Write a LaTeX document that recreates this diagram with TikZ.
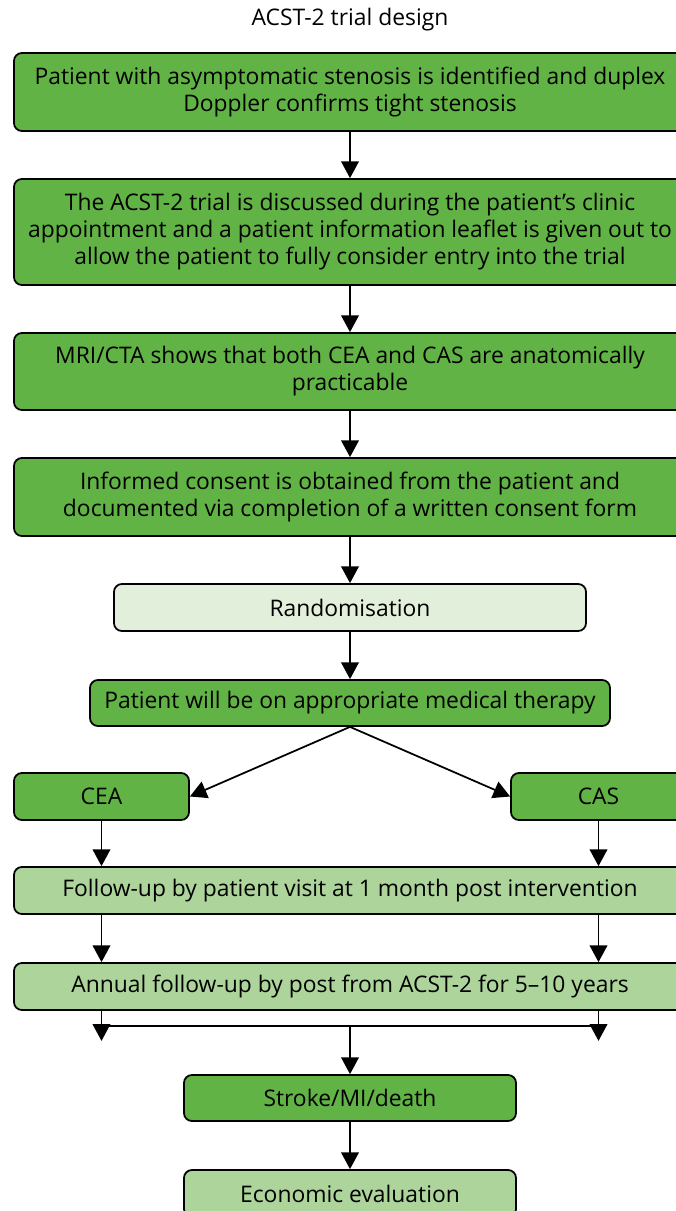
\documentclass[tikz,border=0pt]{standalone}
\usepackage{fontspec}
\setmainfont{Open Sans}
\usetikzlibrary{arrows.meta, positioning, calc}
\definecolor{stepgreen}{RGB}{98,179,70}
\definecolor{midgreen}{RGB}{172,212,155}
\definecolor{palegreen}{RGB}{226,239,218}
\tikzset{
  darkbox/.style={rectangle,rounded corners=4.5pt,fill=stepgreen,draw=black,line width=1pt,
    align=center,inner sep=0pt,font=\fontsize{13}{15.4}\selectfont},
  midbox/.style={darkbox,fill=midgreen},
  palebox/.style={darkbox,fill=palegreen},
  arr/.style={-{Triangle[length=9.5pt,width=10pt]},line width=1pt,draw=black}
}
\begin{document}
\begin{tikzpicture}
  \useasboundingbox (0,0) rectangle (13.52,-24.22);

  \node[font=\fontsize{13}{14}\selectfont] (title) at (7,-0.4) {ACST-2 trial design};

  % Main steps
  \node[darkbox,minimum width=13.44cm,minimum height=1.56cm] (identify) at (7,-1.84)
    {Patient with asymptomatic stenosis is identified and duplex\\Doppler confirms tight stenosis};
  \node[darkbox,minimum width=13.44cm,minimum height=2.12cm] (discuss) at (7,-4.64)
    {The ACST-2 trial is discussed during the patient’s clinic\\appointment and a patient information leaflet is given out to\\allow the patient to fully consider entry into the trial};
  \node[darkbox,minimum width=13.44cm,minimum height=1.54cm] (imaging) at (7,-7.43)
    {MRI/CTA shows that both CEA and CAS are anatomically\\practicable};
  \node[darkbox,minimum width=13.44cm,minimum height=1.56cm] (consent) at (7,-9.94)
    {Informed consent is obtained from the patient and\\documented via completion of a written consent form};
  \node[palebox,minimum width=9.44cm,minimum height=0.94cm] (random) at (7,-12.15) {Randomisation};
  \node[darkbox,minimum width=10.4cm,minimum height=0.92cm] (therapy) at (7,-14.06)
    {Patient will be on appropriate medical therapy};

  % Two arms
  \node[darkbox,minimum width=3.5cm,minimum height=0.94cm] (cea) at (2.03,-15.93) {CEA};
  \node[darkbox,minimum width=3.5cm,minimum height=0.94cm] (cas) at (11.97,-15.93) {CAS};

  \node[midbox,minimum width=13.44cm,minimum height=0.94cm] (month) at (7,-17.81)
    {Follow-up by patient visit at 1 month post intervention};
  \node[midbox,minimum width=13.44cm,minimum height=0.94cm] (annual) at (7,-19.73)
    {Annual follow-up by post from ACST-2 for 5–10 years};

  % Outcomes
  \node[darkbox,minimum width=6.64cm,minimum height=0.92cm] (outcome) at (7,-21.96) {Stroke/MI/death};
  \node[midbox,minimum width=6.64cm,minimum height=0.94cm] (econ) at (7,-23.87) {Economic evaluation};

  \coordinate (lefttip) at ($(cea |- annual.south)+(0,-0.6)$);
  \coordinate (righttip) at ($(cas |- annual.south)+(0,-0.6)$);
  \coordinate (merge) at (7,-20.52);

  % Connectors
  \draw[arr] (identify) -- (discuss);
  \draw[arr] (discuss) -- (imaging);
  \draw[arr] (imaging) -- (consent);
  \draw[arr] (consent) -- (random);
  \draw[arr] (random) -- (therapy);
  \draw[arr] (therapy.south) -- (cea.east);
  \draw[arr] (therapy.south) -- (cas.west);
  \draw[arr] (cea) -- (cea |- month.north);
  \draw[arr] (cas) -- (cas |- month.north);
  \draw[arr] (cea |- month.south) -- (cea |- annual.north);
  \draw[arr] (cas |- month.south) -- (cas |- annual.north);
  \draw[arr] (cea |- annual.south) -- (lefttip);
  \draw[arr] (cas |- annual.south) -- (righttip);
  \draw[line width=1pt] (cea |- merge) -- (cas |- merge);
  \draw[arr] (merge) -- (outcome);
  \draw[arr] (outcome) -- (econ);
\end{tikzpicture}
\end{document}
